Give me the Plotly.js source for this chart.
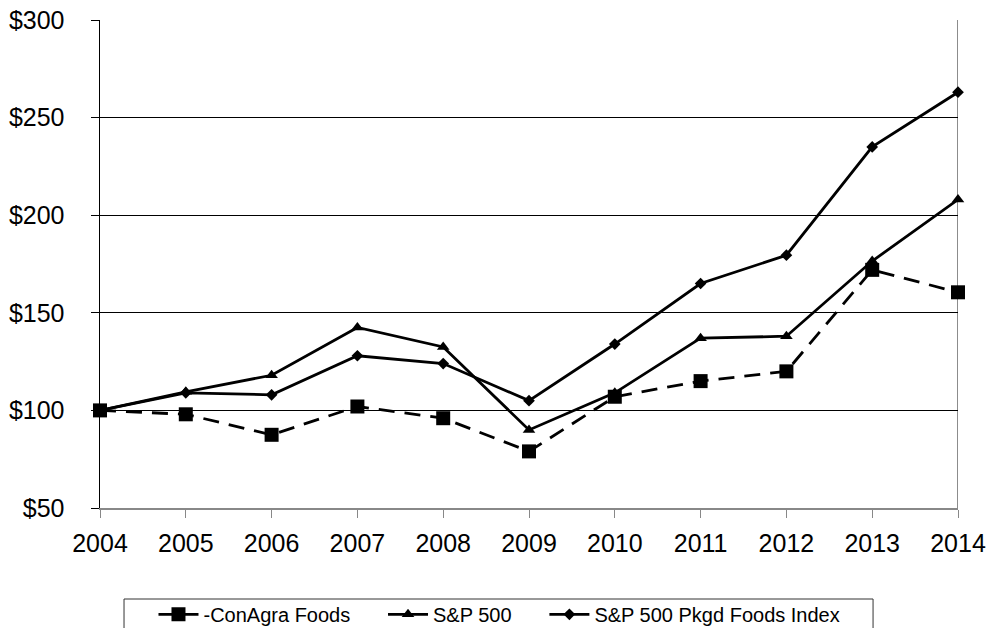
<!DOCTYPE html>
<html>
<head>
<meta charset="utf-8">
<script src="https://cdn.plot.ly/plotly-3.0.1.min.js"></script>
<style>html,body{margin:0;padding:0;background:#fff;}#chart{width:994px;height:628px;}</style>
</head>
<body>
<div id="chart"></div>
<script>
const years = [2004, 2005, 2006, 2007, 2008, 2009, 2010, 2011, 2012, 2013, 2014];
const conagra = [100, 98, 87.5, 102, 96, 79, 107, 115, 120, 172, 160.5];
const sp500 = [100, 109.5, 118, 142.5, 132.5, 90, 109, 137, 138, 176.5, 208];
const pkgdFoods = [100, 109, 108, 128, 124, 105, 134, 165, 179.5, 235, 263];
const yTicks = [50, 100, 150, 200, 250, 300];
const yTickText = ['$50', '$100', '$150', '$200', '$250', '$300'];
const seriesNames = ['-ConAgra Foods', 'S&P 500', 'S&P 500 Pkgd Foods Index'];

const pad = '\u00A0\u00A0\u00A0\u00A0\u00A0';
const traces = [
  {x: years, y: conagra, name: seriesNames[0] + pad, mode: 'lines+markers', cliponaxis: false,
   line: {color: '#000', width: 2.8, dash: '16px,10px'}, marker: {symbol: 'square', size: 14, color: '#000'}},
  {x: years, y: sp500, name: seriesNames[1] + pad, mode: 'lines+markers', cliponaxis: false,
   line: {color: '#000', width: 2.8}, marker: {symbol: 'triangle-up', size: 11, color: '#000'}},
  {x: years, y: pkgdFoods, name: seriesNames[2], mode: 'lines+markers', cliponaxis: false,
   line: {color: '#000', width: 2.8}, marker: {symbol: 'diamond', size: 9, color: '#000'}}
];

const layout = {
  width: 994, height: 628,
  margin: {l: 100, r: 36, t: 20, b: 120, autoexpand: false},
  paper_bgcolor: '#fff', plot_bgcolor: '#fff',
  font: {family: 'Liberation Sans, Arial, sans-serif', color: '#000'},
  showlegend: true,
  legend: {orientation: 'h', x: 0.4656, xanchor: 'center', y: -0.178, yanchor: 'top',
    borderwidth: 0, bgcolor: 'rgba(0,0,0,0)', font: {size: 20}, itemwidth: 40},
  xaxis: {range: [2004, 2014], tickvals: years, ticktext: years.map(String), showgrid: false,
    zeroline: false, showline: true, linecolor: '#888', linewidth: 1.5, ticks: 'outside',
    ticklen: 8, tickcolor: '#888', tickwidth: 1, ticklabelstandoff: 4,
    tickfont: {size: 25}, mirror: false},
  yaxis: {range: [50, 300], tickvals: yTicks, ticktext: yTickText, showgrid: true,
    gridcolor: '#000', gridwidth: 1, zeroline: false, showline: true, linecolor: '#000',
    linewidth: 1.5, ticks: 'outside', ticklen: 8, tickcolor: '#000', ticklabelstandoff: 21,
    tickfont: {size: 25}},
  shapes: [
    {type: 'line', xref: 'x', yref: 'y', x0: 2014, x1: 2014, y0: 50, y1: 300,
     line: {color: '#666', width: 1.5}, layer: 'below'},
    {type: 'rect', xref: 'paper', yref: 'paper', x0: 0.028, x1: 0.901, y0: -0.1865, y1: -0.30,
     line: {color: '#333', width: 1}, fillcolor: 'rgba(0,0,0,0)', layer: 'below'}
  ]
};

Plotly.newPlot('chart', traces, layout, {displayModeBar: false, staticPlot: true});
</script>
</body>
</html>
